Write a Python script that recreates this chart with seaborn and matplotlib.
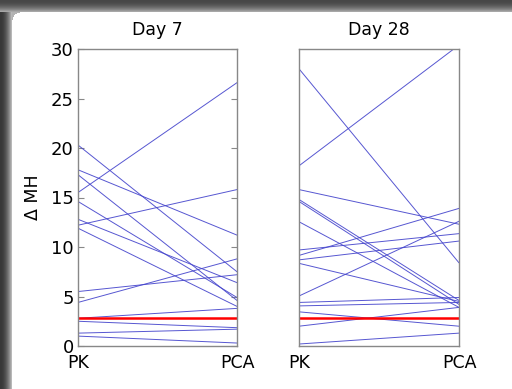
import numpy as np
import pandas as pd
import matplotlib
matplotlib.use("Agg")
import matplotlib.pyplot as plt
import seaborn as sns

# ---- data ----
timepoints = ["PK", "PCA"]
day7_pk  = [15.5, 17.8, 20.3, 17.3, 12.2, 5.5, 4.4, 2.8, 2.5, 1.3, 1.0, 14.6, 12.8, 11.9]
day7_pca = [26.6, 11.2, 7.5, 4.6, 15.8, 7.2, 8.8, 3.8, 1.85, 1.7, 0.3, 4.9, 6.4, 4.0]
day28_pk  = [28.0, 18.2, 15.8, 14.8, 14.6, 12.55, 9.7, 9.15, 8.7, 8.35, 5.05, 4.4, 4.05, 3.45, 2.0, 0.2]
day28_pca = [8.4, 30.4, 12.3, 4.6, 4.2, 3.9, 11.35, 13.9, 10.6, 4.5, 12.6, 4.9, 4.4, 2.0, 3.9, 1.3]
reference_value = 2.8
panel_titles = ["Day 7", "Day 28"]
y_ticks = [0, 5, 10, 15, 20, 25, 30]
y_label = "Δ MH"


def long_frame(pk, pca):
    rows = []
    for i, (a, b) in enumerate(zip(pk, pca)):
        rows.append({"subject": i, "t": 0, "value": a})
        rows.append({"subject": i, "t": 1, "value": b})
    return pd.DataFrame(rows)


ref_df = pd.DataFrame({"t": [0, 1], "value": [reference_value, reference_value]})

sns.set_style("white")
plt.rcParams["font.family"] = ["DejaVu Sans"]
plt.rcParams["text.color"] = "black"
plt.rcParams["axes.labelcolor"] = "black"
plt.rcParams["xtick.color"] = "black"
plt.rcParams["ytick.color"] = "black"

W, H = 512, 389
fig = plt.figure(figsize=(W / 100, H / 100), dpi=100)

# background frame (dark band at top and left with soft shadow, rounded corner)
bg = np.ones((H, W, 3))
top = 12
left = 12
for y in range(top):
    g = 0.28 + 0.45 * (y / top) ** 2
    bg[y, :, :] = g
for x in range(left):
    g = 0.22 + 0.6 * (x / left) ** 2
    bg[top:, x, :] = np.minimum(bg[top:, x, :], g)
r = 8
for y in range(top, top + r):
    for x in range(left, left + r):
        if (x - (left + r)) ** 2 + (y - (top + r)) ** 2 > r * r:
            bg[y, x, :] = 0.7
bax = fig.add_axes([0, 0, 1, 1], zorder=-10)
bax.imshow(bg, aspect="auto", interpolation="bilinear")
bax.axis("off")

positions = [[78 / W, 1 - 346 / H, 159 / W, 297 / H],
             [299 / W, 1 - 346 / H, 160 / W, 297 / H]]
data = [(day7_pk, day7_pca), (day28_pk, day28_pca)]

for k, (pos, (pk, pca), title) in enumerate(zip(positions, data, panel_titles)):
    ax = fig.add_axes(pos)
    ax.set_facecolor("white")
    df = long_frame(pk, pca)
    sns.lineplot(data=df, x="t", y="value", units="subject", estimator=None,
                 color="#4444cc", lw=0.7, alpha=0.9, ax=ax, legend=False)
    sns.lineplot(data=ref_df, x="t", y="value", color="#ff0000", lw=1.8, ax=ax,
                 legend=False)
    ax.set_xlim(0, 1)
    ax.set_ylim(0, 30)
    ax.set_xticks([0, 1])
    ax.set_xticklabels(timepoints, fontsize=12.5, color="black")
    ax.tick_params(axis="x", length=0, pad=6)
    ax.set_xlabel("")
    ax.set_title(title, fontsize=12.5, pad=10, color="black")
    for s in ax.spines.values():
        s.set_color("#888888")
        s.set_linewidth(1.0)
    if k == 0:
        ax.set_yticks(y_ticks)
        ax.set_yticklabels([str(v) for v in y_ticks], fontsize=13, color="black")
        ax.tick_params(axis="y", direction="in", length=4, width=0.8,
                       color="#888888", left=True, right=True, pad=3)
        ax.set_ylabel(y_label, fontsize=12.5, labelpad=6, color="black")
    else:
        ax.set_yticks([])
        ax.set_ylabel("")

fig.savefig("out.png", dpi=100)
